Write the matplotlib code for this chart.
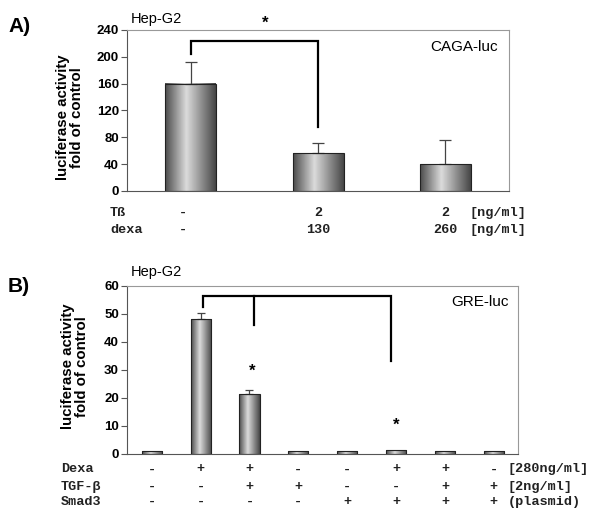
# %%
import matplotlib.pyplot as plt
import matplotlib.transforms as mtransforms
import numpy as np

plt.rcParams['font.family'] = ['Liberation Sans', 'DejaVu Sans']

# %%
# Panel A: CAGA-luc
a_values = [160, 56, 40]
a_errors = [32, 16, 36]
a_tb = ['-', '2', '2']
a_dexa = ['-', '130', '260']

# Panel B: GRE-luc
b_values = [1, 48, 21.3, 1, 1, 1.3, 1, 1]
b_errors = [0, 2.4, 1.3, 0, 0, 0, 0, 0]
b_dexa = ['-', '+', '+', '-', '-', '+', '+', '-']
b_tgf = ['-', '-', '+', '+', '-', '-', '+', '+']
b_smad = ['-', '-', '-', '-', '+', '+', '+', '+']

# %%
W, H = 600, 517
fig = plt.figure(figsize=(6, 5.17), dpi=100)


def fx(x):
    return x / W


def fy(y):
    return 1 - y / H


mono = dict(family=['Liberation Mono', 'DejaVu Sans Mono'], fontsize=9.7,
            fontweight='bold', color='#222')
shade = np.interp(np.linspace(0, 1, 64), [0, .42, 1], [.3, .86, .28])[None, :]


def shaded_bars(ax, values, errors, width, capsize):
    x = np.arange(len(values))
    bars = ax.bar(x, values, width, facecolor='none', edgecolor='#222',
                  lw=0.8, zorder=3)
    for b in bars:
        ax.imshow(shade, cmap='gray', vmin=0, vmax=1, aspect='auto',
                  extent=(b.get_x(), b.get_x() + b.get_width(), 0, b.get_height()),
                  zorder=2)
    e = np.array(errors)
    m = e > 0
    ax.errorbar(x[m], np.array(values)[m], yerr=[np.zeros(m.sum()), e[m]],
                fmt='none', ecolor='#444', elinewidth=0.9, capsize=capsize,
                capthick=0.9, zorder=2.5)


def style(ax, ymax, step, n, lx, ly):
    ax.set_xlim(-0.5, n - 0.5)
    ax.set_ylim(0, ymax)
    ax.set_yticks(np.arange(0, ymax + 1, step))
    ax.set_xticks([])
    for s in ax.spines.values():
        s.set_color('#999')
    ax.spines['left'].set_color('#555')
    ax.spines['bottom'].set_color('#555')
    ax.tick_params(axis='y', length=4, color='#555', pad=2)
    for t in ax.get_yticklabels():
        t.set_fontweight('bold')
        t.set_fontsize(9.5)
    ax.set_ylabel('luciferase activity\nfold of control', fontsize=10.8,
                  fontweight='bold', linespacing=1.0)
    ax.yaxis.set_label_coords(lx, ly)


def bracket(ax, xs, ys):
    ax.plot(xs, ys, color='k', lw=1.6, clip_on=False, zorder=4,
            solid_joinstyle='miter')


# %%
# Panel A
axA = fig.add_axes([fx(127.3), fy(191), fx(509) - fx(127.3), fy(30) - fy(191)])
shaded_bars(axA, a_values, a_errors, 0.4, 4)
style(axA, 240, 40, len(a_values), -0.113, 0.457)
bracket(axA, [0, 0, 1, 1], [204, 224, 224, 96])
axA.text(0.58, 250, '*', ha='center', va='center', fontsize=12, fontweight='bold')
axA.text(0.97, 0.895, 'CAGA-luc', transform=axA.transAxes, ha='right',
         va='center', fontsize=11)
fig.text(fx(131), fy(19), 'Hep-G2', ha='left', va='center', fontsize=10.5)
fig.text(fx(8), fy(27), 'A)', ha='left', va='center', fontsize=15, fontweight='bold')

tA = mtransforms.blended_transform_factory(axA.transData, fig.transFigure)
for row, labels, y in [('Tß', a_tb, 212.7), ('dexa', a_dexa, 230)]:
    fig.text(fx(110), fy(y), row, ha='left', va='center', **mono)
    for i, s in enumerate(labels):
        axA.text(i - (0.06 if i == 0 else 0), fy(y), s, transform=tA,
                 ha='center', va='center', **mono)
    fig.text(fx(470), fy(y), '[ng/ml]', ha='left', va='center', **mono)

# %%
# Panel B
axB = fig.add_axes([fx(127.3), fy(453.7), fx(518.3) - fx(127.3), fy(285.7) - fy(453.7)])
shaded_bars(axB, b_values, b_errors, 0.41, 3)
style(axB, 60, 10, len(b_values), -0.099, 0.519)
bracket(axB, [1.05, 1.05, 4.9, 4.9], [52.3, 56.3, 56.3, 33.2])
bracket(axB, [2.1, 2.1], [56.3, 46])
axB.text(2.05, 29.5, '*', ha='center', va='center', fontsize=12, fontweight='bold')
axB.text(5.0, 10.2, '*', ha='center', va='center', fontsize=12, fontweight='bold')
axB.text(0.975, 0.905, 'GRE-luc', transform=axB.transAxes, ha='right',
         va='center', fontsize=11)
fig.text(fx(131), fy(272), 'Hep-G2', ha='left', va='center', fontsize=10.5)
fig.text(fx(8), fy(286), 'B)', ha='left', va='center', fontsize=15, fontweight='bold')

tB = mtransforms.blended_transform_factory(axB.transData, fig.transFigure)
rows = [('Dexa', b_dexa, 469.3, '[280ng/ml]'),
        ('TGF-β', b_tgf, 486.7, '[2ng/ml]'),
        ('Smad3', b_smad, 501.7, '(plasmid)')]
for row, labels, y, unit in rows:
    fig.text(fx(61), fy(y), row, ha='left', va='center', **mono)
    for i, s in enumerate(labels):
        axB.text(i, fy(y), s, transform=tB, ha='center', va='center', **mono)
    fig.text(fx(507.3), fy(y), unit, ha='left', va='center', **mono)

fig.savefig('out.png', dpi=100)
